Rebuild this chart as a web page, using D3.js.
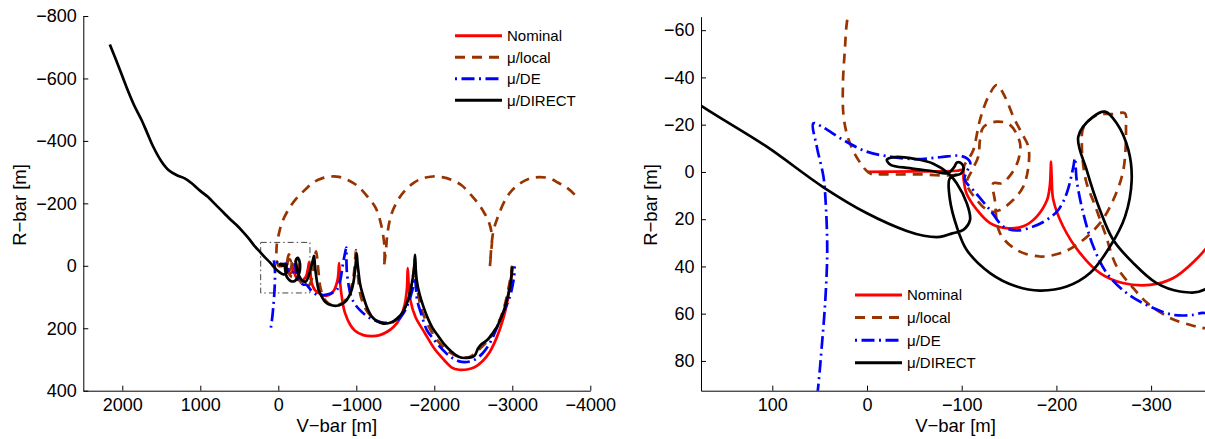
<!DOCTYPE html>
<html>
<head>
<meta charset="utf-8">
<script src="https://cdn.jsdelivr.net/npm/d3@7"></script>
<style>
body { margin: 0; background: #fff; }
svg { display: block; }
text { font-family: "Liberation Sans", Arial, Helvetica, sans-serif; fill: #000; }
</style>
</head>
<body>
<svg id="chart" width="1205" height="439"></svg>
<script>
// trajectories, [V-bar, R-bar] in metres
var nominal = [[0,0],[-50,-0.2],[-95,-0.5],[-101,-0.8],[-102,3],[-105,9],[-116,16],[-130,21.7],[-147,23.8],[-165,23],[-179,19],[-190,12],[-193,6],[-194,-1],[-194.3,-4.4],[-195,2],[-196.7,11.8],[-207,23],[-225,34.4],[-246,42.8],[-270,47],[-299,47.8],[-323,45],[-345,38],[-362,30],[-380,10],[-395,-12],[-410,15],[-428,55],[-470,78],[-535,90],[-620,96],[-705,82],[-760,45],[-780,-9],[-791,50],[-820,110],[-855,151],[-920,188],[-983,208],[-1090,222],[-1200,225],[-1300,222],[-1390,212],[-1480,195],[-1560,168],[-1620,125],[-1650,70],[-1659,7],[-1672,60],[-1692,109],[-1760,165],[-1878,215],[-2000,265],[-2123,301],[-2220,325],[-2319,333],[-2420,332],[-2515,325],[-2620,305],[-2713,275],[-2800,230],[-2883,170],[-2940,110],[-2968,65],[-2990,30],[-3006,2]];

var muLocal = [[-3800,-228],[-3700,-250],[-3595,-265],[-3480,-280],[-3350,-284],[-3230,-280],[-3105,-265],[-2990,-240],[-2909,-211],[-2820,-160],[-2761,-115],[-2735,-70],[-2722,-30],[-2713,2],[-2727,-41],[-2740,-94],[-2700,-140],[-2639,-170],[-2560,-200],[-2467,-228],[-2350,-258],[-2222,-275],[-2100,-284],[-1977,-286],[-1850,-280],[-1731,-265],[-1620,-240],[-1535,-211],[-1450,-165],[-1400,-105],[-1380,-50],[-1354,2],[-1362,-25],[-1358,-70],[-1320,-130],[-1250,-185],[-1142,-222],[-1020,-255],[-897,-274],[-776,-285],[-676,-286],[-560,-280],[-455,-268],[-350,-245],[-230,-215],[-130,-180],[-50,-140],[-5,-100],[15,-75],[21,-64],[23.4,-51.6],[25.4,-37.5],[24.7,-23.4],[19.3,-13.5],[9.2,-5.1],[-3,0.6],[-14,1],[-50,1],[-100,0.5],[-103,-3],[-108,-6],[-112.3,-9.3],[-119.3,-22],[-128.1,-31.8],[-137,-36.8],[-145.7,-31.8],[-154.5,-23.4],[-163.4,-16.4],[-170.4,-10.7],[-170.4,-2.2],[-165,6.2],[-154.5,11.8],[-140.4,16.1],[-129.9,16.8],[-115.8,11.8],[-105.3,4.8],[-110,0],[-117.5,-6.5],[-119.3,-13.5],[-123,-19],[-137,-21.3],[-151,-19.9],[-161.6,-12.1],[-159.8,-5.1],[-152.8,0.6],[-142.2,4.8],[-133.4,4.8],[-135,12],[-140.4,25.9],[-158,33],[-182.7,35.8],[-203.8,34.4],[-221.4,30.9],[-246,21.7],[-260.1,11.8],[-270.7,-0.8],[-273.5,-19.2],[-272.4,-24.8],[-260,-24.5],[-243.2,-24.1],[-228.9,-19.2],[-226.9,-10.7],[-231,3.4],[-241.2,14.7],[-251.3,25.9],[-263.6,40],[-279.8,48.5],[-296.1,55.5],[-320.5,61.9],[-340.9,64.7],[-356.4,66.1],[-380,66],[-420,50],[-449,13],[-470,-30],[-485,-46],[-500,-20],[-513,13],[-540,70],[-600,110],[-700,128],[-800,122],[-900,95],[-960,40],[-985,-20],[-995,-50],[-1005,-10],[-1020,30],[-1060,100],[-1150,150],[-1300,180],[-1450,182],[-1580,155],[-1680,90],[-1735,20],[-1750,-20],[-1765,40],[-1800,100],[-1850,150],[-2000,225],[-2150,268],[-2300,290],[-2450,292],[-2600,262],[-2750,218],[-2880,145],[-2960,60],[-3000,0]];

var muDE = [[95,198],[75,160],[62,125],[52,92.7],[48,75],[44,54],[42,33],[43.8,11.8],[46,2],[53,-10.7],[56.7,-20.6],[47.8,-19.2],[25,-13.5],[0.3,-8.6],[-24.3,-6.5],[-52.5,-5.4],[-77,-6.2],[-100,-6.7],[-109,-4],[-106,-0.5],[-103,3],[-115,9],[-129.9,16.1],[-143.9,23.1],[-158,24.8],[-175.6,23.1],[-189.8,20.3],[-202,16.1],[-210.9,9],[-217.9,-2.2],[-219.6,-5.8],[-221.4,3.4],[-228.4,17.5],[-239,31.6],[-253.1,42.8],[-274.2,51.3],[-298.8,57],[-323.4,60.5],[-345,60.5],[-356.4,59.7],[-400,72],[-455,87],[-530,95],[-603,93],[-680,88],[-750,77],[-800,40],[-823,2],[-855,-40],[-872,-58],[-874,-10],[-880,23],[-900,60],[-922,87],[-970,118],[-1044,141],[-1140,162],[-1240,175],[-1387,183],[-1535,173],[-1610,150],[-1658,125],[-1700,95],[-1731,66],[-1752,38],[-1765,70],[-1780,109],[-1840,160],[-1903,205],[-1990,235],[-2074,260],[-2200,290],[-2319,306],[-2420,308],[-2515,301],[-2620,280],[-2713,247],[-2800,200],[-2859,162],[-2930,125],[-2982,87],[-3020,40],[-3031,2]];

var muDirect = [[2160,-709],[2050,-640],[1949,-574],[1850,-515],[1753,-467],[1680,-425],[1605,-382],[1500,-335],[1409,-307],[1300,-290],[1200,-280],[1114,-265],[1000,-240],[900,-220],[820,-200],[700,-170],[600,-145],[526,-128],[450,-108],[380,-88],[300,-62],[232,-44],[175,-28],[107,-11],[46,6.5],[0,17.5],[-42,25],[-60,27],[-77,27.5],[-90,26],[-101.7,24.5],[-108.8,20.3],[-105.3,13.2],[-94.7,4.8],[-85.9,0.6],[-70,-3.5],[-50,-5.5],[-30,-6.3],[-21,-5.2],[-25,-3],[-45,-1.6],[-70,-0.3],[-85,0.5],[-92,-2],[-95,-4],[-100,-3.5],[-102,-1.5],[-99,0.8],[-92,1.5],[-87,3],[-87.6,11.8],[-94.7,23.1],[-105.3,33],[-129.9,42.8],[-158,48.5],[-182.7,50.2],[-210.9,48.5],[-235.5,42.8],[-256.6,31.6],[-272.5,18.9],[-279.5,3.4],[-276,-9.3],[-263.7,-20.6],[-251.3,-25.5],[-239,-23.4],[-223.1,-14.9],[-232,-0.8],[-246,16.1],[-260.1,28.8],[-281.2,38.6],[-305.9,47.1],[-330.5,50.6],[-356,49.9],[-385,35],[-420,5],[-445,-20],[-458,-32],[-470,0],[-492,45],[-520,80],[-556,98],[-600,115],[-663,125],[-749,128],[-820,122],[-877,110],[-930,85],[-962,55],[-990,0],[-1005,-40],[-1015,-10],[-1026,15],[-1050,60],[-1090,98],[-1140,135],[-1197,162],[-1270,178],[-1346,185],[-1410,184],[-1474,178],[-1540,165],[-1603,145],[-1660,112],[-1710,60],[-1740,10],[-1753,-35],[-1762,10],[-1774,45],[-1810,90],[-1859,130],[-1920,170],[-1977,199],[-2050,225],[-2123,250],[-2222,275],[-2319,292],[-2418,295],[-2515,288],[-2560,265],[-2600,252],[-2682,237],[-2750,215],[-2805,195],[-2860,165],[-2903,135],[-2945,95],[-2976,60],[-2992,25],[-2996,2]];

var seriesNames = ["Nominal", "\u03bc/local", "\u03bc/DE", "\u03bc/DIRECT"];
var seriesColors = ["#ff0000", "#993300", "#0000ff", "#000000"];
var seriesDash = [null, "10,7", "2,4.5,13,4.5", null];
var seriesData = [nominal, muLocal, muDE, muDirect];

var leftXTicks = [2000, 1000, 0, -1000, -2000, -3000, -4000];
var leftYTicks = [-800, -600, -400, -200, 0, 200, 400];
var rightXTicks = [100, 0, -100, -200, -300];
var rightYTicks = [-60, -40, -20, 0, 20, 40, 60, 80];

// dash-dot rectangle on the left panel marking the zoomed area
var zoomBox = [[226, -75], [-406, 87]];

var svg = d3.select("#chart");

var fmt = function(d) { return d < 0 ? "\u2212" + Math.abs(d) : String(d); };

var line = function(x, y) {
  return d3.line()
    .x(function(d) { return x(d[0]); })
    .y(function(d) { return y(d[1]); })
    .curve(d3.curveCatmullRom.alpha(0.5));
};

function drawPanel(p) {
  var x = d3.scaleLinear().domain(p.xDomain).range([p.x0, p.x1]);
  var y = d3.scaleLinear().domain(p.yDomain).range([p.y0, p.y1]);

  svg.append("clipPath").attr("id", p.id)
    .append("rect")
    .attr("x", p.x0).attr("y", p.y0)
    .attr("width", p.x1 - p.x0).attr("height", p.y1 - p.y0);

  var plot = svg.append("g").attr("clip-path", "url(#" + p.id + ")");

  if (p.box) {
    plot.append("rect")
      .attr("x", x(p.box[0][0])).attr("y", y(p.box[0][1]))
      .attr("width", x(p.box[1][0]) - x(p.box[0][0]))
      .attr("height", y(p.box[1][1]) - y(p.box[0][1]))
      .attr("fill", "none").attr("stroke", "#444")
      .attr("stroke-width", 1).attr("stroke-dasharray", "6,3,1.5,3");
  }

  var ln = line(x, y);
  seriesData.forEach(function(s, i) {
    plot.append("path")
      .attr("d", ln(s))
      .attr("fill", "none")
      .attr("stroke", seriesColors[i])
      .attr("stroke-width", 2.7)
      .attr("stroke-linejoin", "round")
      .attr("stroke-dasharray", seriesDash[i]);
  });

  var gx = svg.append("g")
    .attr("transform", "translate(0," + p.y1 + ")")
    .call(d3.axisBottom(x).tickValues(p.xTicks).tickFormat(fmt)
      .tickSizeInner(-5).tickSizeOuter(0).tickPadding(7.5));
  var gy = svg.append("g")
    .attr("transform", "translate(" + p.x0 + ",0)")
    .call(d3.axisLeft(y).tickValues(p.yTicks).tickFormat(fmt)
      .tickSizeInner(-5).tickSizeOuter(0).tickPadding(6.5));
  [gx, gy].forEach(function(g) {
    g.selectAll("text").style("font-size", "18px").attr("font-family", null);
    g.selectAll("path, line").attr("stroke", "#000");
    g.attr("font-family", null);
  });

  svg.append("text")
    .attr("x", (p.x0 + Math.min(p.x1, 1210)) / 2).attr("y", 432)
    .attr("text-anchor", "middle")
    .style("font-size", "18.5px")
    .text("V\u2212bar [m]");
  svg.append("text")
    .attr("transform", "translate(" + p.yLabelX + ",205) rotate(-90)")
    .attr("text-anchor", "middle")
    .style("font-size", "18.5px")
    .text("R\u2212bar [m]");

  var lg = svg.append("g");
  seriesNames.forEach(function(n, i) {
    var ly = p.legend.y0 + i * p.legend.dy;
    lg.append("line")
      .attr("x1", p.legend.x).attr("x2", p.legend.x + 47)
      .attr("y1", ly).attr("y2", ly)
      .attr("stroke", seriesColors[i]).attr("stroke-width", 3)
      .attr("stroke-dasharray", seriesDash[i]);
    lg.append("text")
      .attr("x", p.legend.x + 52).attr("y", ly)
      .attr("dy", "0.36em")
      .style("font-size", "15px")
      .text(n);
  });
}

drawPanel({
  id: "clipL", x0: 83.3, x1: 590.3, y0: 16, y1: 390.7,
  xDomain: [2500, -4000], yDomain: [-800, 400],
  xTicks: leftXTicks, yTicks: leftYTicks, box: zoomBox,
  yLabelX: 25.5,
  legend: { x: 455, y0: 35.7, dy: 21.5 }
});

drawPanel({
  id: "clipR", x0: 701, x1: 1210, y0: 16.7, y1: 390.7,
  xDomain: [175.3, -362.2], yDomain: [-65.7, 92.6],
  xTicks: rightXTicks, yTicks: rightYTicks, box: null,
  yLabelX: 657,
  legend: { x: 855, y0: 295, dy: 22.6 }
});
</script>
</body>
</html>
